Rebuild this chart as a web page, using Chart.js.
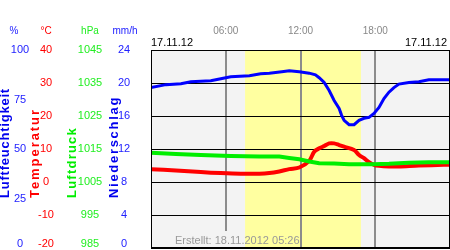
<!DOCTYPE html>
<html>
<head>
<meta charset="utf-8">
<script src="https://cdn.jsdelivr.net/npm/chart.js@4/dist/chart.umd.min.js"></script>
<style>
    html, body { margin: 0; padding: 0; background: #ffffff; }
    #box { position: relative; width: 450px; height: 250px; }
</style>
</head>
<body>
<div id="box"><canvas id="weatherChart"></canvas></div>
<script>
// Time of day in hours
const humidityTimes = [0, 1.2, 2.4, 3.2, 4.8, 5.6, 6.4, 7.9, 8.8, 9.5, 10.5, 11.1, 11.9, 12.7, 13.2, 13.5, 13.9, 14.3, 14.7, 15.1, 15.3, 15.5, 15.9, 16.3, 16.7, 17.1, 17.5, 17.9, 18.3, 18.7, 19.1, 19.5, 19.9, 20.7, 21.5, 22.3, 23.5, 24];
const humidityValues = [81, 82.5, 83, 84, 84.5, 85.5, 86.5, 87, 88, 88.3, 89, 89.5, 89, 88.3, 87.5, 86, 83.6, 79.5, 74.5, 70.5, 67, 64.5, 62.3, 62.3, 64.5, 65.5, 66, 68, 71, 75.5, 78.7, 81, 82.8, 83.6, 84, 85, 85, 85];

const temperatureTimes = [0, 2, 4, 5.6, 7.2, 8.7, 9.5, 10.3, 11.1, 11.9, 12.7, 13.1, 13.5, 13.9, 14.3, 14.7, 15.1, 15.5, 16.3, 16.7, 17.1, 17.5, 17.9, 18.3, 19.1, 19.9, 21.5, 23.5, 24];
const temperatureValues = [3.9, 3.5, 3.0, 2.7, 2.5, 2.5, 2.7, 3.2, 3.9, 4.4, 6.4, 9.2, 10.2, 10.9, 11.7, 11.7, 11.2, 10.7, 9.7, 8.2, 7.2, 6.0, 5.2, 4.9, 4.7, 4.7, 5.0, 5.2, 5.2];

const pressureTimes = [0, 2, 4, 6.4, 8.7, 10.3, 11.1, 11.9, 12.7, 13.5, 14.7, 15.9, 17.9, 19.1, 20.7, 22.3, 24];
const pressureValues = [1013.9, 1013.5, 1013.2, 1012.9, 1012.7, 1012.7, 1012.3, 1011.9, 1011.2, 1010.7, 1010.6, 1010.4, 1010.4, 1010.5, 1010.8, 1011, 1011];

// Tick labels of the four left axes
const humidityTicks = [100, 75, 50, 25, 0];
const temperatureTicks = [40, 30, 20, 10, 0, -10, -20];
const pressureTicks = [1045, 1035, 1025, 1015, 1005, 995, 985];
const rainTicks = [24, 20, 16, 12, 8, 4, 0];
const timeTicks = [6, 12, 18];
const timeLabels = ['06:00', '12:00', '18:00'];

// Daylight (yellow band) in hours
const sunrise = 7.55;
const sunset = 16.85;

const nightColor = '#f3f3f3';
const dayColor = '#ffffa0';

function toPoints(times, values) {
    return times.map((t, i) => ({ x: t, y: values[i] }));
}

// Background: grey night, yellow day
const backgroundPlugin = {
    id: 'dayBackground',
    beforeDraw(chart) {
        const { ctx, chartArea } = chart;
        const x = chart.scales.x;
        ctx.save();
        ctx.fillStyle = nightColor;
        ctx.fillRect(chartArea.left, chartArea.top, chartArea.width, chartArea.height);
        ctx.fillStyle = dayColor;
        const x1 = x.getPixelForValue(sunrise);
        const x2 = x.getPixelForValue(sunset);
        ctx.fillRect(x1, chartArea.top, x2 - x1, chartArea.height);
        ctx.restore();
    }
};

// Draw a rotated title, stretched to a given length
function verticalTitle(ctx, text, x, bottom, length, color) {
    ctx.save();
    ctx.translate(x, bottom);
    ctx.rotate(-Math.PI / 2);
    ctx.font = 'bold 13px "Liberation Sans", Arial, sans-serif';
    ctx.fillStyle = color;
    ctx.textAlign = 'left';
    ctx.textBaseline = 'middle';
    const w = ctx.measureText(text).width;
    const spacing = Math.max(0, (length - w) / text.length);
    ctx.letterSpacing = spacing.toFixed(2) + 'px';
    ctx.fillText(text, 0, 0);
    ctx.restore();
}

// Axis labels, titles and the texts round the plot
const labelsPlugin = {
    id: 'weatherLabels',
    afterDraw(chart) {
        const { ctx, chartArea, scales } = chart;
        ctx.save();

        // the 06:00 line stops above the creation stamp
        const x6 = scales.x.getPixelForValue(timeTicks[0]);
        ctx.fillStyle = x6 < scales.x.getPixelForValue(sunrise) ? nightColor : dayColor;
        ctx.fillRect(x6 - 2, 231, 4, chartArea.bottom - 232);

        // frame
        ctx.strokeStyle = '#000000';
        ctx.lineWidth = 1;
        ctx.strokeRect(chartArea.left + 0.5, chartArea.top + 0.5, chartArea.width - 1, chartArea.height - 1);

        ctx.font = '10px "Liberation Sans", Arial, sans-serif';
        ctx.textAlign = 'center';
        ctx.textBaseline = 'middle';

        // unit headers
        ctx.fillStyle = '#2222ff';
        ctx.fillText('%', 14, 31);
        ctx.fillStyle = '#ff0000';
        ctx.fillText('°C', 46, 31);
        ctx.fillStyle = '#22ee22';
        ctx.fillText('hPa', 90, 31);
        ctx.fillStyle = '#2222ff';
        ctx.fillText('mm/h', 125, 31);

        // tick labels, placed by the scales
        const clampY = y => Math.min(Math.max(y, 50), 244);
        ctx.font = '11px "Liberation Sans", Arial, sans-serif';
        ctx.fillStyle = '#2222ff';
        humidityTicks.forEach(v => ctx.fillText(String(v), 20, clampY(scales.hum.getPixelForValue(v))));
        ctx.fillStyle = '#ff0000';
        temperatureTicks.forEach(v => ctx.fillText(String(v), 46, clampY(scales.temp.getPixelForValue(v))));
        ctx.fillStyle = '#22ee22';
        pressureTicks.forEach(v => ctx.fillText(String(v), 90, clampY(scales.press.getPixelForValue(v))));
        ctx.fillStyle = '#2222ff';
        rainTicks.forEach(v => ctx.fillText(String(v), 124, clampY(scales.rain.getPixelForValue(v))));

        // time labels on top
        ctx.font = '10px "Liberation Sans", Arial, sans-serif';
        ctx.fillStyle = '#888888';
        timeTicks.forEach((t, i) => ctx.fillText(timeLabels[i], scales.x.getPixelForValue(t), 31));

        // dates
        ctx.font = '11px "Liberation Sans", Arial, sans-serif';
        ctx.fillStyle = '#000000';
        ctx.textAlign = 'left';
        ctx.fillText('17.11.12', 151, 43);
        ctx.textAlign = 'right';
        ctx.fillText('17.11.12', 447, 43);

        // creation stamp
        ctx.font = '11px "Liberation Sans", Arial, sans-serif';
        ctx.fillStyle = '#999999';
        ctx.textAlign = 'left';
        ctx.fillText('Erstellt: 18.11.2012 05:26', 175, 241);
        ctx.restore();

        verticalTitle(ctx, 'Luftfeuchtigkeit', 5, 198, 110, '#0000ee');
        verticalTitle(ctx, 'Temperatur', 35, 198, 90, '#ff0000');
        verticalTitle(ctx, 'Luftdruck', 72, 198, 71, '#00ee00');
        verticalTitle(ctx, 'Niederschlag', 114, 198, 102, '#0000ee');
    }
};

document.addEventListener('DOMContentLoaded', function () {
    const ctx = document.getElementById('weatherChart').getContext('2d');

    const weatherChart = new Chart(ctx, {
        type: 'line',
        data: {
            datasets: [
                {
                    label: 'Luftdruck',
                    data: toPoints(pressureTimes, pressureValues),
                    yAxisID: 'press',
                    borderColor: '#00ee00',
                    borderWidth: 4,
                    pointRadius: 0,
                    tension: 0
                },
                {
                    label: 'Temperatur',
                    data: toPoints(temperatureTimes, temperatureValues),
                    yAxisID: 'temp',
                    borderColor: '#ff0000',
                    borderWidth: 4,
                    pointRadius: 0,
                    tension: 0.3
                },
                {
                    label: 'Luftfeuchtigkeit',
                    data: toPoints(humidityTimes, humidityValues),
                    yAxisID: 'hum',
                    borderColor: '#0000ff',
                    borderWidth: 3,
                    pointRadius: 0,
                    tension: 0
                }
            ]
        },
        options: {
            responsive: true,
            maintainAspectRatio: false,
            animation: false,
            layout: {
                padding: { left: 151, top: 50, right: 0, bottom: 2 }
            },
            plugins: {
                legend: { display: false },
                tooltip: { enabled: false }
            },
            scales: {
                x: {
                    type: 'linear',
                    position: 'top',
                    min: 0,
                    max: 24,
                    ticks: { display: false, stepSize: 6 },
                    border: { display: false },
                    grid: {
                        drawTicks: false,
                        color: c => (c.tick && timeTicks.includes(c.tick.value)) ? '#8c8c8c' : 'rgba(0,0,0,0)',
                        lineWidth: 2
                    },
                    afterFit: s => { s.height = 0; }
                },
                rain: {
                    position: 'left',
                    min: 0,
                    max: 24,
                    ticks: { display: false, stepSize: 4 },
                    border: { display: false },
                    grid: { drawTicks: false, color: '#000000', lineWidth: 1 },
                    afterFit: s => { s.width = 0; }
                },
                hum: { display: false, min: 0, max: 100 },
                temp: { display: false, min: -20, max: 40 },
                press: { display: false, min: 985, max: 1045 }
            }
        },
        plugins: [backgroundPlugin, labelsPlugin]
    });
});
</script>
</body>
</html>
